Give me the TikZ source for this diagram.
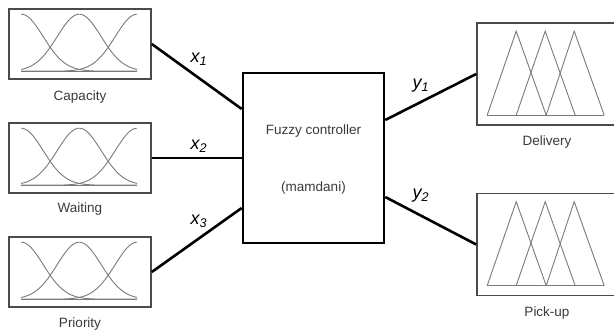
\documentclass[tikz,border=0pt]{standalone}
\usepackage{fontspec}
\setmainfont{Liberation Sans}
\usetikzlibrary{calc}
\definecolor{boxgray}{HTML}{4A4A4A}
\definecolor{curvegray}{HTML}{7A7A7A}
\definecolor{txtgray}{HTML}{3A3A3A}
\tikzset{
  mfbox/.style={draw=boxgray, line width=1.6pt, minimum width=142pt, minimum height=70pt, inner sep=0pt},
  outbox/.style={draw=boxgray, line width=1.6pt, minimum width=142pt, minimum height=102pt, inner sep=0pt},
  ctrlbox/.style={draw=black, line width=2.6pt, minimum width=141pt, minimum height=170pt, inner sep=0pt},
  lbl/.style={text=txtgray, font=\fontsize{13.5}{16}\selectfont, inner sep=0pt},
  conn/.style={draw=black, line width=2.6pt},
  var/.style={font=\fontsize{18}{20}\selectfont\itshape, inner sep=0pt},
  mf/.style={draw=curvegray, line width=0.9pt},
}
\newcommand{\gaussset}[1]{%
  \begin{scope}[shift={(#1.north west)}]
    \foreach \c in {13,71,129}{
      \draw[mf] plot[domain=13:129, samples=80, smooth] (\x, {63 - 57*exp(-((\x-\c)*(\x-\c))/968)});
    }
    \draw[mf] (13,63) -- (129,63);
  \end{scope}}
\newcommand{\triset}[1]{%
  \begin{scope}[shift={(#1.north west)}]
    \draw[mf] (11,93) -- (40,9) -- (70,93);
    \draw[mf] (40,93) -- (69,9) -- (99,93);
    \draw[mf] (70,93) -- (98,9) -- (128,93);
    \draw[mf] (11,93) -- (128,93);
  \end{scope}}
\begin{document}
\begin{tikzpicture}[x=1pt,y=-1pt]
\clip (0,0) rectangle (614,334);
\fill[white] (0,0) rectangle (614,334);
% input boxes
\node[mfbox] (cap) at (80,44) {};
\node[mfbox] (wait) at (80,158) {};
\node[mfbox] (prio) at (80,272) {};
\gaussset{cap}
\gaussset{wait}
\gaussset{prio}
\node[lbl] (capl) at (80,97) {Capacity};
\node[lbl] (waitl) at (80,209) {Waiting};
\node[lbl] (priol) at (80,324) {Priority};
% controller
\node[ctrlbox] (ctrl) at (313.5,158) {};
\node[lbl] (ctrlt1) at (313.5,131) {Fuzzy controller};
\node[lbl] (ctrlt2) at (313.5,188) {(mamdani)};
% output boxes
\node[outbox] (del) at (548,74) {};
\node[outbox] (pick) at (548,244.5) {};
\triset{del}
\triset{pick}
\node[lbl] (dell) at (547,142) {Delivery};
\node[lbl] (pickl) at (547,313) {Pick-up};
% connectors
\draw[conn] (cap.east) -- ($(ctrl.west)+(0,-49)$);
\draw[conn] (wait.east) -- (ctrl.west);
\draw[conn] (prio.east) -- ($(ctrl.west)+(0,50)$);
\draw[conn] ($(ctrl.east)+(0,-38)$) -- (del.west);
\draw[conn] ($(ctrl.east)+(0,39)$) -- (pick.west);
% variable labels
\node[var] (x1) at (199,59) {x\textsubscript{1}};
\node[var] (x2) at (199,146) {x\textsubscript{2}};
\node[var] (x3) at (199,221) {x\textsubscript{3}};
\node[var] (y1) at (421,86) {y\textsubscript{1}};
\node[var] (y2) at (421,196) {y\textsubscript{2}};
\end{tikzpicture}
\end{document}
